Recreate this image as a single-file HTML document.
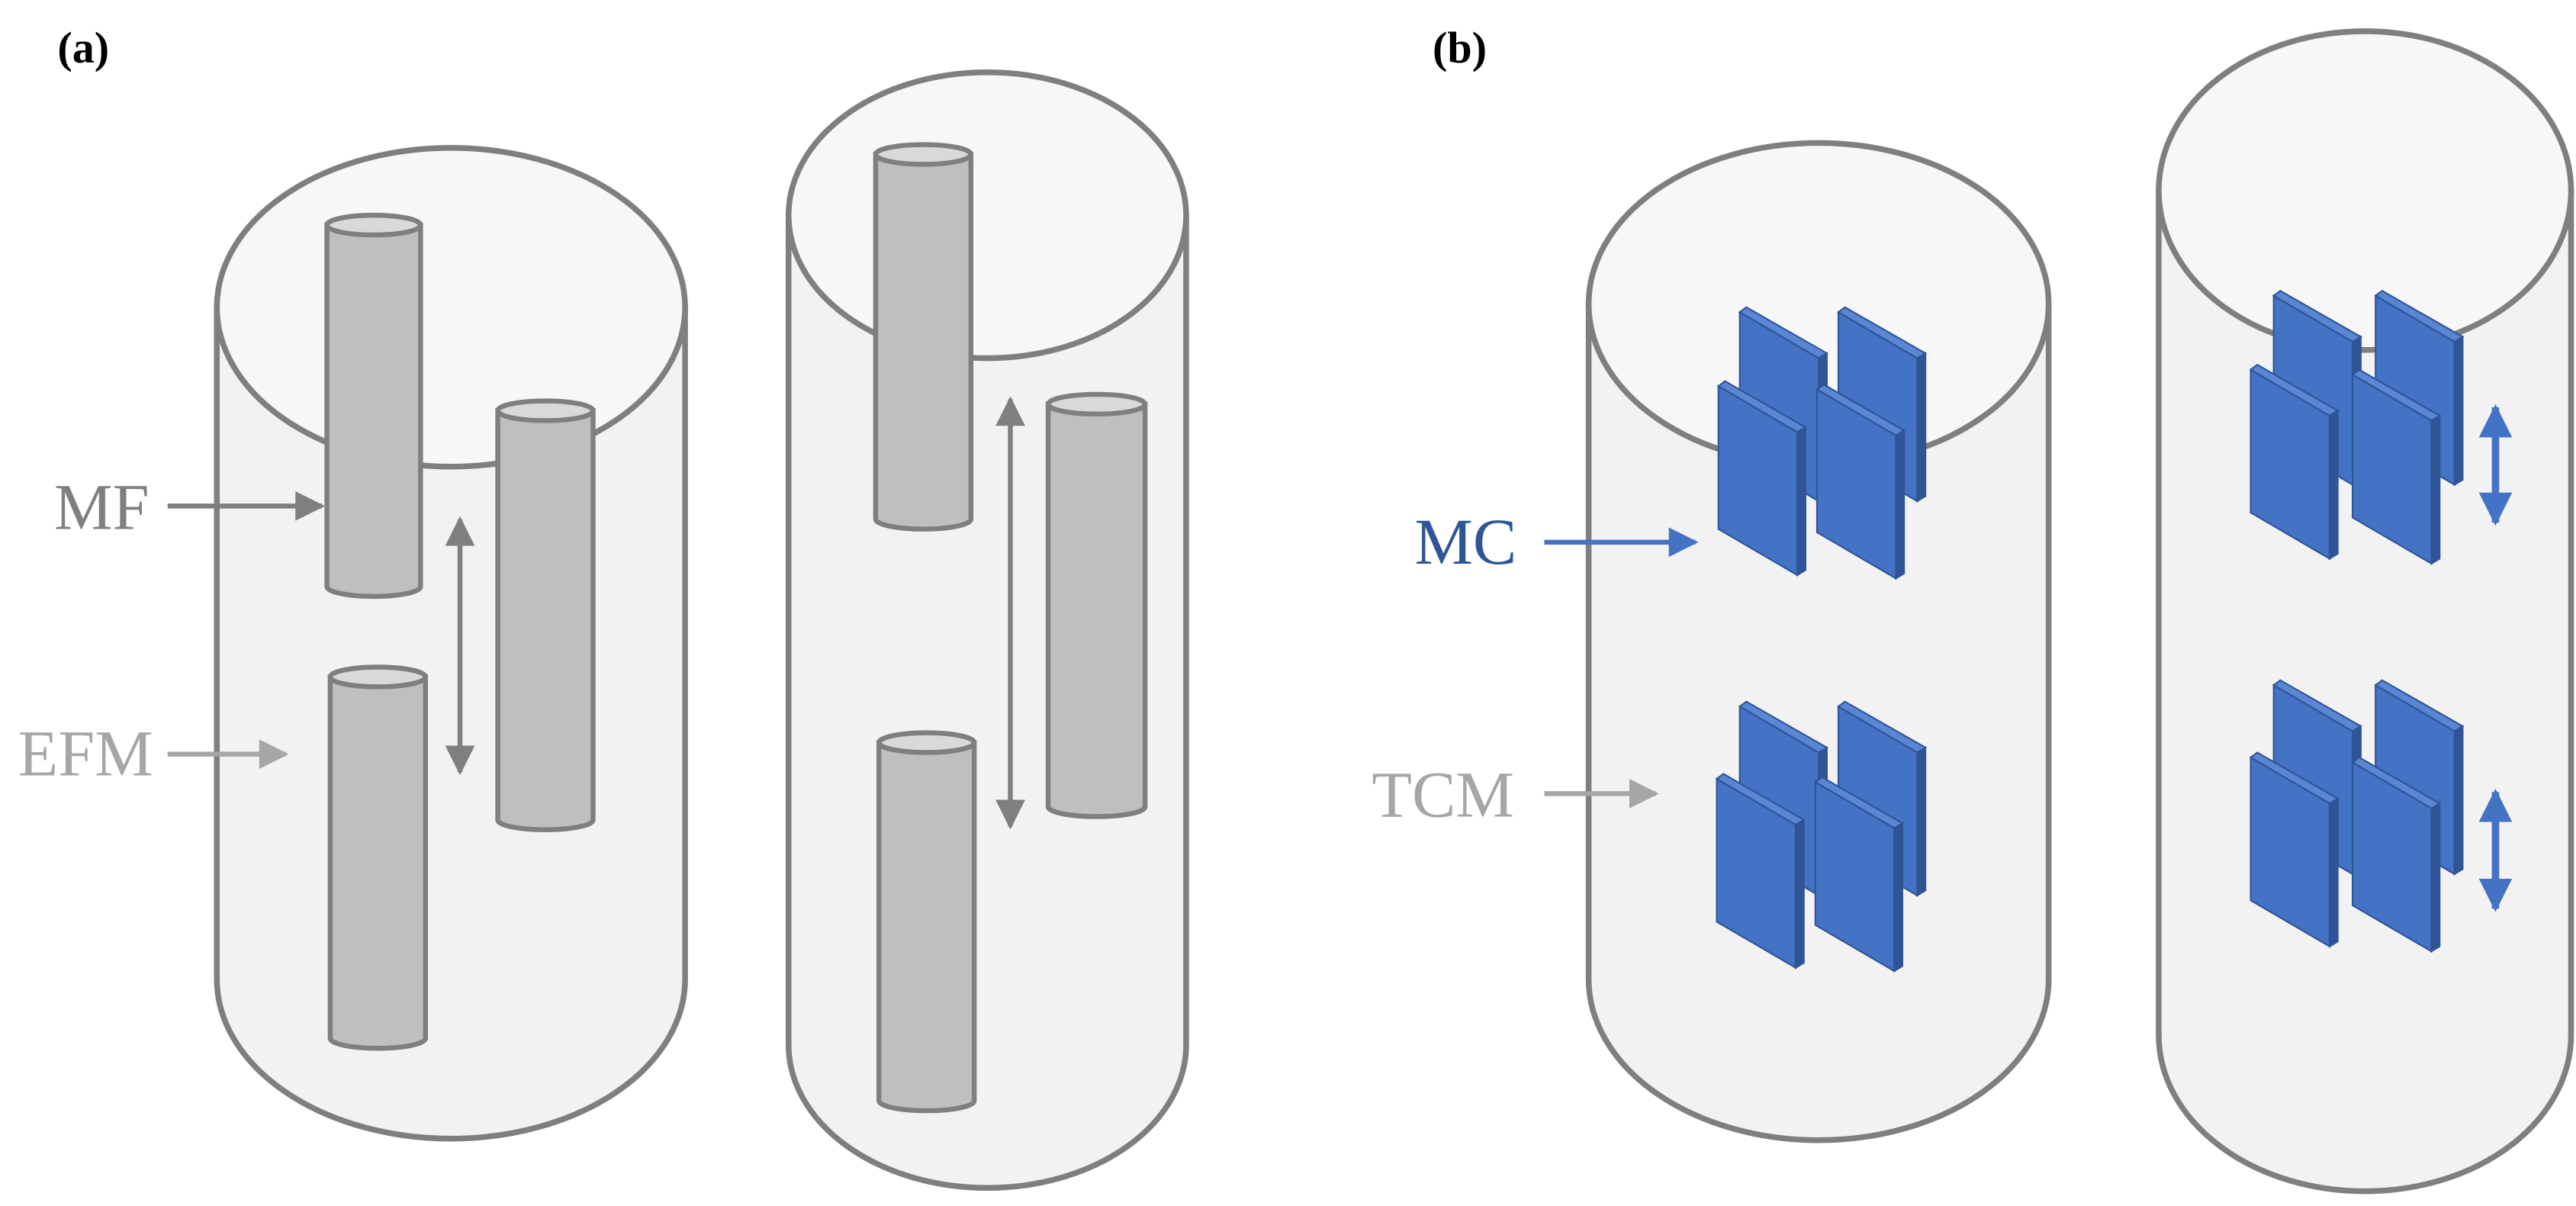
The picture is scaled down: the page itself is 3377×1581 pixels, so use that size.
<!DOCTYPE html>
<html><head><meta charset="utf-8"><style>
html,body{margin:0;padding:0;background:#fff;width:3377px;height:1581px;overflow:hidden}
svg{display:block}
</style></head><body>
<svg width="3377" height="1581" viewBox="0 0 1568 734" preserveAspectRatio="none" xmlns="http://www.w3.org/2000/svg">
<defs>
<marker id="ag" viewBox="0 0 10 10" refX="9" refY="5" markerWidth="6.5" markerHeight="6" orient="auto-start-reverse"><path d="M0,0L10,5L0,10z" fill="#7f7f7f"/></marker>
<marker id="al" viewBox="0 0 10 10" refX="9" refY="5" markerWidth="6.5" markerHeight="6" orient="auto-start-reverse"><path d="M0,0L10,5L0,10z" fill="#a6a6a6"/></marker>
<marker id="ab" viewBox="0 0 10 10" refX="9" refY="5" markerWidth="6.5" markerHeight="6" orient="auto-start-reverse"><path d="M0,0L10,5L0,10z" fill="#4472c4"/></marker>
<marker id="ab2" viewBox="0 0 10 10" refX="9" refY="5" markerWidth="4.5" markerHeight="5" orient="auto-start-reverse"><path d="M0,0L10,5L0,10z" fill="#4472c4"/></marker>
<g id="plate">
<path d="M0,0 L48,28 L48,115 L0,87 Z" fill="#4472c4" stroke="#2f5597" stroke-width="1"/>
<path d="M0,0 L4,-3 L53,25 L48,28 Z" fill="#5b86d3" stroke="#2f5597" stroke-width="1"/>
<path d="M48,28 L53,25 L53,112 L48,115 Z" fill="#2f5597" stroke="#2f5597" stroke-width="1"/>
</g>
</defs>
<g font-family="'Liberation Serif',serif">
<text x="35" y="38" font-size="27" font-weight="bold" fill="#000">(a)</text>
<text x="872" y="38" font-size="27" font-weight="bold" fill="#000">(b)</text>
</g>
<g stroke="#7f7f7f" stroke-width="3.5">
<path d="M132,187 L132,596 A142.5,97 0 0 0 417,596 L417,187 Z" fill="#f2f2f2"/>
<ellipse cx="274.5" cy="187" rx="142.5" ry="97" fill="#f7f7f7"/>
<path d="M480,131 L480,636 A121,87 0 0 0 722,636 L722,131 Z" fill="#f2f2f2"/>
<ellipse cx="601" cy="131" rx="121" ry="87" fill="#f7f7f7"/>
<path d="M967,185 L967,596 A140,98 0 0 0 1247,596 L1247,185 Z" fill="#f2f2f2"/>
<ellipse cx="1107" cy="185" rx="140" ry="98" fill="#f7f7f7"/>
<path d="M1314,116 L1314,630 A125.5,95 0 0 0 1565,630 L1565,116 Z" fill="#f2f2f2"/>
<ellipse cx="1439.5" cy="116" rx="125.5" ry="97" fill="#f7f7f7"/>
</g>
<g stroke="#7f7f7f" stroke-width="3" fill="#bfbfbf">
<path d="M199,137 L199,357 A28.5,6 0 0 0 256,357 L256,137 Z"/><ellipse cx="227.5" cy="137" rx="28.5" ry="6" fill="#d9d9d9"/>
<path d="M303,250 L303,499 A29,6 0 0 0 361,499 L361,250 Z"/><ellipse cx="332" cy="250" rx="29" ry="6" fill="#d9d9d9"/>
<path d="M201,412 L201,632 A29,6 0 0 0 259,632 L259,412 Z"/><ellipse cx="230" cy="412" rx="29" ry="6" fill="#d9d9d9"/>
<path d="M533,94 L533,316 A29,6 0 0 0 591,316 L591,94 Z"/><ellipse cx="562" cy="94" rx="29" ry="6" fill="#d9d9d9"/>
<path d="M638,246 L638,491 A29.5,6 0 0 0 697,491 L697,246 Z"/><ellipse cx="667.5" cy="246" rx="29.5" ry="6" fill="#d9d9d9"/>
<path d="M535,452 L535,670 A29,6 0 0 0 593,670 L593,452 Z"/><ellipse cx="564" cy="452" rx="29" ry="6" fill="#d9d9d9"/>
</g>
<g stroke-width="3" fill="none">
<line x1="280" y1="316" x2="280" y2="470" stroke="#7f7f7f" marker-start="url(#ag)" marker-end="url(#ag)"/>
<line x1="615" y1="243" x2="615" y2="503" stroke="#7f7f7f" marker-start="url(#ag)" marker-end="url(#ag)"/>
<line x1="102" y1="308" x2="196" y2="308" stroke="#7f7f7f" marker-end="url(#ag)"/>
<line x1="102" y1="459" x2="174" y2="459" stroke="#a6a6a6" marker-end="url(#al)"/>
<line x1="940" y1="330" x2="1032" y2="330" stroke="#4472c4" marker-end="url(#ab)"/>
<line x1="940" y1="483" x2="1008" y2="483" stroke="#a6a6a6" marker-end="url(#al)"/>
<line x1="1519" y1="248" x2="1519" y2="318" stroke="#4472c4" stroke-width="4.5" marker-start="url(#ab2)" marker-end="url(#ab2)"/>
<line x1="1519" y1="482" x2="1519" y2="553" stroke="#4472c4" stroke-width="4.5" marker-start="url(#ab2)" marker-end="url(#ab2)"/>
</g>
<use href="#plate" x="1059" y="190"/><use href="#plate" x="1119" y="190"/>
<use href="#plate" x="1046" y="235"/><use href="#plate" x="1106" y="237"/>
<use href="#plate" x="1059" y="430"/><use href="#plate" x="1119" y="430"/>
<use href="#plate" x="1045" y="474"/><use href="#plate" x="1105" y="476"/>
<use href="#plate" x="1384" y="180"/><use href="#plate" x="1446" y="180"/>
<use href="#plate" x="1370" y="225"/><use href="#plate" x="1432" y="228"/>
<use href="#plate" x="1384" y="417"/><use href="#plate" x="1446" y="417"/>
<use href="#plate" x="1370" y="461"/><use href="#plate" x="1432" y="464"/>
<g font-family="'Liberation Serif',serif" font-size="40">
<text x="33" y="322" fill="#7f7f7f">MF</text>
<text x="11" y="472" fill="#a6a6a6">EFM</text>
<text x="861" y="343" fill="#2f5597">MC</text>
<text x="835" y="497" fill="#a6a6a6">TCM</text>
</g>
</svg>
</body></html>
